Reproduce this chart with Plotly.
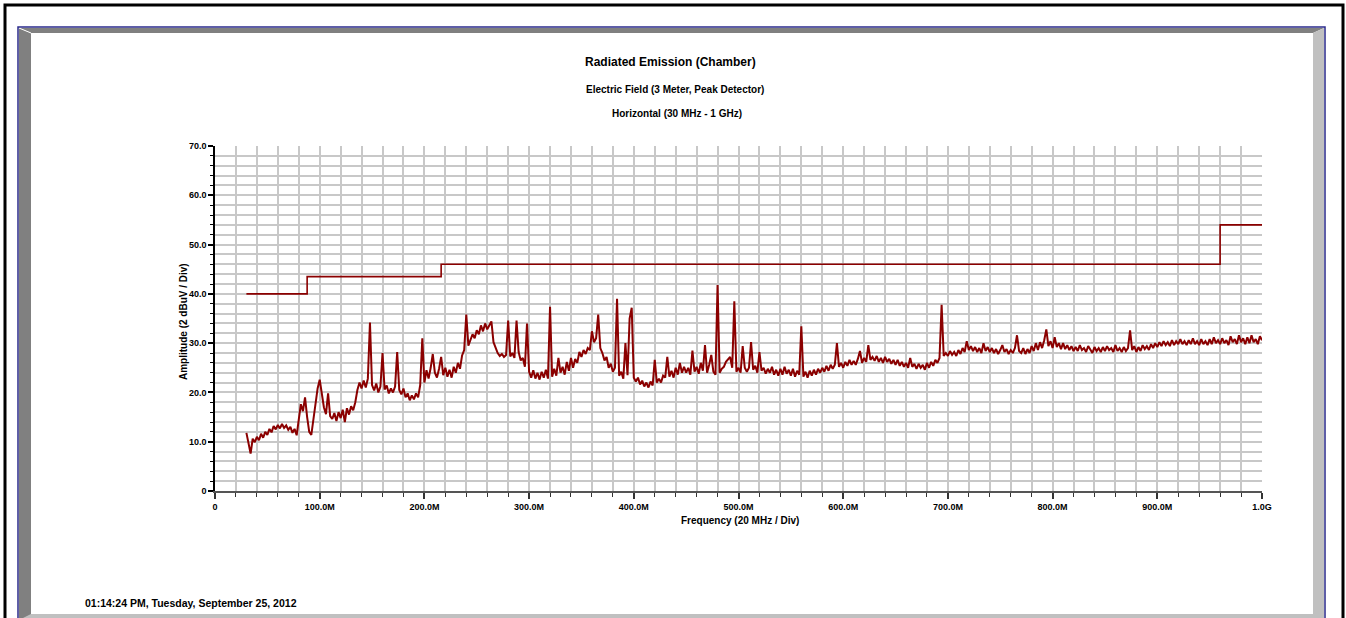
import plotly.graph_objects as go

# Measured peak amplitude (dBuV/m), swept from 30 MHz in 2 MHz steps
SWEEP_START_MHZ = 30
SWEEP_STEP_MHZ = 2
AMPLITUDE = [
    11.8, 9.4, 7.6, 10.6, 9.9, 11.0, 10.3, 11.6, 10.8, 12.0,
    11.4, 12.6, 11.9, 13.2, 12.5, 13.4, 12.7, 13.6, 12.8, 13.3,
    12.4, 13.0, 11.8, 12.6, 11.3, 14.5, 17.6, 16.2, 19.0, 15.0,
    12.0, 11.4, 14.5, 17.5, 20.8, 22.6, 19.5, 17.0, 15.6, 19.8,
    15.2, 14.6, 15.8, 14.2, 16.0, 14.8, 16.5, 14.0, 16.8, 15.5,
    17.2, 16.4, 18.0, 20.5, 22.0, 20.8, 22.4, 21.0, 22.8, 34.2,
    21.5, 20.4, 21.8, 20.0, 21.2, 28.0, 20.6, 21.4, 19.8, 20.8,
    20.0, 21.2, 28.2, 20.5, 19.6, 20.8, 19.0, 19.8, 18.4, 19.4,
    18.6, 19.8, 19.0, 21.5, 31.0, 22.0, 24.5, 22.8, 25.0, 27.8,
    24.0, 23.0, 24.8, 27.2, 23.5, 25.0, 23.2, 24.6, 23.0, 25.2,
    24.0, 26.0, 24.8, 27.5, 28.6, 35.8, 29.5, 30.5, 31.8, 31.0,
    32.6, 31.8, 33.6, 32.4, 34.0, 32.8, 33.5, 34.4, 30.2, 29.0,
    28.0, 27.4, 27.8, 27.2, 27.6, 34.6, 27.3, 28.0, 27.0, 34.6,
    28.2, 26.5, 27.0, 25.2, 34.0, 24.2, 23.0, 24.5, 22.8, 24.0,
    22.6, 24.2, 23.0, 24.6, 22.8, 37.4, 23.2, 24.8, 23.4, 27.0,
    24.0, 25.2, 23.6, 26.2, 24.4, 27.0, 25.0, 26.8, 26.0, 28.2,
    27.2, 28.6, 27.8, 29.0, 28.6, 32.4, 30.2, 31.0, 35.8, 29.0,
    28.0, 26.5, 27.2, 25.0, 25.8, 24.2, 25.0, 39.0, 23.4, 24.2,
    22.8, 30.0, 23.5, 35.0, 37.2, 23.0, 22.2, 23.0, 21.6, 22.4,
    21.2, 22.0, 21.0, 22.2, 21.4, 26.6, 22.0, 22.8, 22.0, 23.4,
    23.0, 27.2, 23.2, 24.4, 23.0, 25.0, 23.6, 26.0, 24.0, 25.2,
    24.0, 25.0, 23.6, 28.5, 24.2, 25.2, 23.8, 26.0, 24.4, 29.6,
    24.0, 25.6, 27.6, 24.2, 23.6, 41.8, 24.0, 24.8, 25.2, 26.2,
    26.8, 27.2, 25.0, 38.5, 24.2, 25.0, 24.0, 29.4, 25.0, 24.2,
    25.0, 30.2, 24.6, 25.4, 24.0, 28.2, 24.4, 25.0, 23.8, 24.8,
    24.0, 25.2, 23.6, 24.6, 23.4, 24.8, 23.6, 25.2, 23.8, 24.6,
    23.4, 24.8, 23.2, 24.4, 23.6, 33.4, 23.2, 24.2, 23.0, 24.4,
    23.4, 24.6, 23.6, 24.8, 24.0, 25.0, 24.2, 25.4, 24.4, 25.6,
    24.8, 25.6, 30.0, 25.2, 26.0, 25.0, 26.2, 25.4, 26.6, 25.6,
    26.4, 25.6, 26.8, 28.4, 26.0, 27.0, 26.2, 29.6, 26.6, 27.2,
    26.4, 27.4, 26.2, 27.0, 26.0, 27.2, 26.2, 26.8, 25.8, 26.6,
    25.6, 26.6, 25.4, 26.2, 25.2, 26.0, 25.0, 27.0, 25.2, 25.8,
    24.8, 25.8, 25.0, 25.6, 24.6, 26.0, 25.0, 26.2, 25.4, 26.6,
    26.0, 27.0, 37.8, 27.4, 28.0, 27.4, 28.4, 27.6, 28.2, 27.4,
    28.6, 27.8, 29.0, 28.2, 30.4, 28.6, 29.4, 28.4, 29.2, 28.2,
    29.0, 28.0, 30.0, 28.4, 29.2, 28.2, 29.0, 28.0, 28.8, 27.8,
    28.6, 29.6, 28.2, 28.8, 27.8, 28.6, 28.0, 29.0, 31.6, 28.4,
    28.0, 29.0, 27.8, 28.8, 28.0, 29.4, 28.4, 30.0, 28.6, 30.2,
    29.0, 30.6, 32.8, 29.4, 30.4, 29.0, 31.2, 29.2, 30.0, 28.8,
    30.0, 28.8, 29.6, 28.6, 29.4, 28.4, 29.2, 28.4, 29.6, 28.6,
    29.0, 28.2, 29.4, 28.6, 28.0, 29.2, 28.4, 29.0, 28.2, 29.2,
    28.4, 29.4, 28.6, 29.0, 28.2, 29.6, 28.4, 29.0, 28.2, 29.2,
    28.4, 29.0, 32.6, 28.6, 29.4, 28.2, 29.2, 28.4, 29.6, 28.8,
    29.4, 28.6, 29.8, 29.0, 30.0, 29.2, 30.2, 29.4, 30.4, 29.6,
    30.2, 29.4, 30.6, 29.6, 30.4, 29.8, 30.8, 29.8, 30.4, 29.6,
    30.6, 29.8, 31.0, 29.8, 30.4, 29.6, 30.8, 29.8, 30.4, 29.6,
    30.8, 29.8, 31.2, 30.0, 30.6, 29.8, 31.0, 30.0, 30.6, 29.6,
    31.4, 30.2, 30.8, 29.8, 31.6, 30.2, 31.0, 29.8, 31.2, 30.0,
    31.6, 30.2, 30.8, 29.8, 31.4, 30.6,
]
FREQ_MHZ = [SWEEP_START_MHZ + SWEEP_STEP_MHZ * i for i in range(len(AMPLITUDE))]

# Limit line (stepped)
LIMIT_FREQ_MHZ = [30, 88, 216, 960, 1000]
LIMIT_DB = [40.0, 43.5, 46.0, 54.0, 54.0]

# Axis ticks
X_TICKS = [0, 100, 200, 300, 400, 500, 600, 700, 800, 900, 1000]
X_TICK_TEXT = ["0", "100.0M", "200.0M", "300.0M", "400.0M", "500.0M",
               "600.0M", "700.0M", "800.0M", "900.0M", "1.0G"]
Y_TICKS = [0, 10, 20, 30, 40, 50, 60, 70]
Y_TICK_TEXT = ["0", "10.0", "20.0", "30.0", "40.0", "50.0", "60.0", "70.0"]

W, H = 1346, 618
L, R, T, B = 215, 1262, 146, 491  # plot area in pixels

TRACE_COLOR = "#8b0000"
NARROW = "Liberation Sans Narrow, Arial Narrow, Liberation Sans, Arial"
SANS = "Liberation Sans, Arial"


def px(x):
    return (x - L) / (R - L)


def py(y):
    return (B - y) / (B - T)


def path(points):
    return "M" + " L".join(f"{px(a):.5f},{py(b):.5f}" for a, b in points) + " Z"


fig = go.Figure()
fig.add_trace(go.Scatter(
    x=LIMIT_FREQ_MHZ, y=LIMIT_DB, mode="lines", line_shape="hv",
    line=dict(color=TRACE_COLOR, width=1.6), hoverinfo="skip",
))
fig.add_trace(go.Scatter(
    x=FREQ_MHZ, y=AMPLITUDE, mode="lines",
    line=dict(color=TRACE_COLOR, width=2),
))

# Frame: outer border, bevelled panel
shapes = [
    dict(type="path", path=path([(19, 28), (1324, 28), (1313, 33), (31, 33)]),
         fillcolor="#808080", line=dict(width=0)),
    dict(type="path", path=path([(19, 28), (31, 33), (31, 700), (19, 700)]),
         fillcolor="#808080", line=dict(width=0)),
    dict(type="path", path=path([(1324, 28), (1324, 700), (1313, 700), (1313, 33)]),
         fillcolor="#c0c0c0", line=dict(width=0)),
    dict(type="path", path=path([(31, 614), (1313, 614), (1324, 620), (19, 620)]),
         fillcolor="#c0c0c0", line=dict(width=0)),
    dict(type="line", x0=px(19), y0=py(28), x1=px(31), y1=py(33),
         line=dict(color="white", width=1)),
    dict(type="rect", x0=px(18), y0=py(27), x1=px(1325), y1=py(700),
         line=dict(color="#2a2a8a", width=1.5)),
    dict(type="rect", x0=px(5), y0=py(5), x1=px(1343), y1=py(760),
         line=dict(color="black", width=3)),
]
for s in shapes:
    s.update(xref="paper", yref="paper", layer="above" if s["type"] == "rect" else "below")

annotations = [
    dict(text="<b>Radiated Emission (Chamber)</b>", x=px(670), y=py(62),
         font=dict(family=SANS, size=12, color="black")),
    dict(text="<b>Electric Field (3 Meter, Peak Detector)</b>", x=px(675), y=py(90),
         font=dict(family=NARROW, size=10, color="black")),
    dict(text="<b>Horizontal (30 MHz - 1 GHz)</b>", x=px(677), y=py(113),
         font=dict(family=NARROW, size=10, color="black")),
    dict(text="<b>Frequency (20 MHz / Div)</b>", x=px(740), y=py(520),
         font=dict(family=SANS, size=10, color="black")),
    dict(text="<b>Amplitude (2 dBuV / Div)</b>", x=px(183), y=py(322), textangle=-90,
         font=dict(family=SANS, size=10, color="black")),
    dict(text="<b>01:14:24 PM, Tuesday, September 25, 2012</b>", x=px(83), y=py(603),
         xanchor="left", font=dict(family=NARROW, size=10.5, color="black")),
]
for a in annotations:
    a.update(xref="paper", yref="paper", showarrow=False)
    a.setdefault("xanchor", "center")
    a.setdefault("yanchor", "middle")

fig.update_layout(
    width=W, height=H,
    margin=dict(l=L, r=W - R, t=T, b=H - B, pad=0),
    paper_bgcolor="white", plot_bgcolor="white",
    showlegend=False,
    shapes=shapes, annotations=annotations,
    xaxis=dict(
        range=[0, 1000], tickmode="array", tickvals=X_TICKS, ticktext=X_TICK_TEXT,
        showgrid=True, gridcolor="#c8c8c8", gridwidth=1.5,
        showline=True, linecolor="#555555", linewidth=2, zeroline=False,
        ticks="outside", ticklen=6, tickwidth=1.5, tickcolor="#333333",
        tickfont=dict(family=NARROW, size=9, color="black", weight="bold"),
        minor=dict(dtick=20, showgrid=True, gridcolor="#c8c8c8", gridwidth=1.5,
                   ticks="outside", ticklen=4, tickwidth=1, tickcolor="#333333"),
    ),
    yaxis=dict(
        range=[0, 70], tickmode="array", tickvals=Y_TICKS, ticktext=Y_TICK_TEXT,
        showgrid=True, gridcolor="#c8c8c8", gridwidth=1.5,
        showline=True, linecolor="black", linewidth=1.5, zeroline=False,
        ticks="outside", ticklen=5, tickwidth=1.5, tickcolor="black",
        tickfont=dict(family=NARROW, size=9, color="black", weight="bold"),
        minor=dict(dtick=2, showgrid=True, gridcolor="#c8c8c8", gridwidth=1.5,
                   ticks="outside", ticklen=3, tickwidth=1, tickcolor="black"),
    ),
)

fig.write_html("out.html")
